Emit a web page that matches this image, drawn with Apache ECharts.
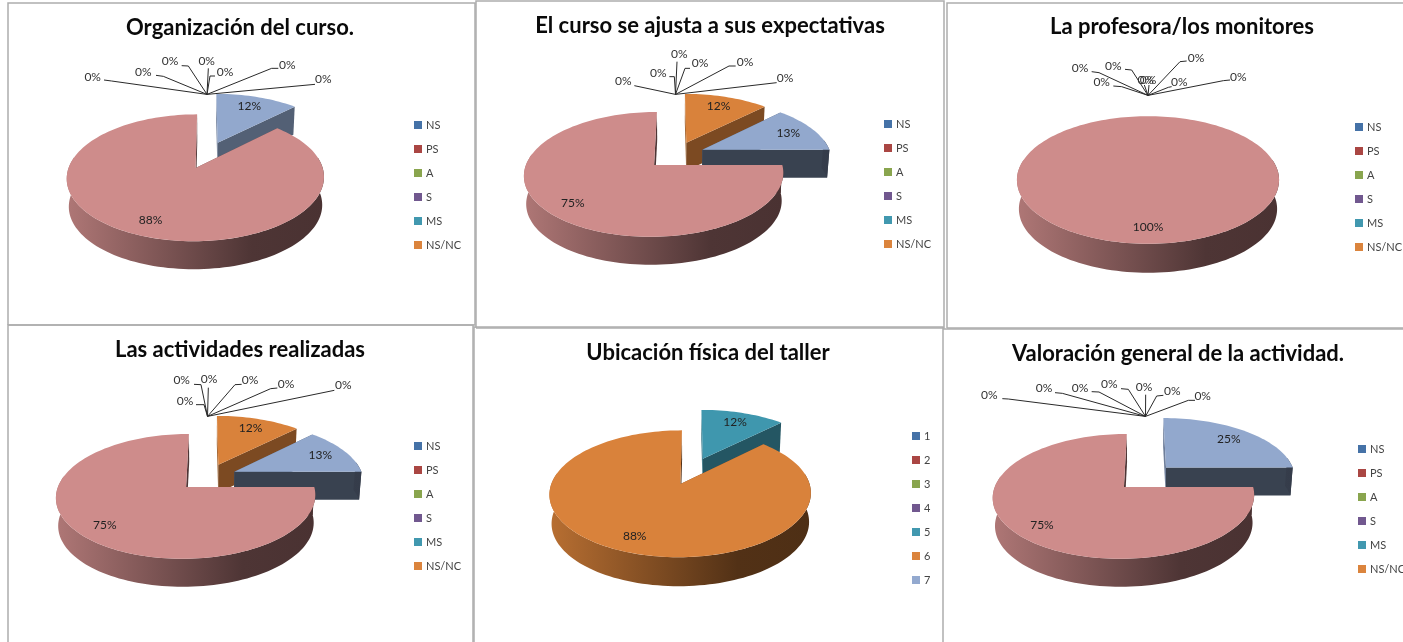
<!DOCTYPE html>
<html>
<head>
<meta charset="utf-8">
<style>html,body{margin:0;padding:0;background:#fff}#c{width:1403px;height:642px}</style>
<script src="https://cdn.jsdelivr.net/npm/echarts@6/dist/echarts.min.js"></script>
</head>
<body>
<div id="c"></div>
<script>
// ---- data ----
const titles = ['Organización del curso.','El curso se ajusta a sus expectativas','La profesora/los monitores','Las actividades realizadas','Ubicación física del taller','Valoración general de la actividad.'];
const legendScale = ['NS','PS','A','S','MS','NS/NC'];
const legendNumbers = ['1','2','3','4','5','6','7'];
const organizacion = [0,0,0,0,0,0,12.4,87.6,0];
const expectativas = [0,0,0,0,0,12.4,12.6,75,0];
const profesora    = [0,0,0,0,0,0,0,100,0];
const actividades  = [0,0,0,0,0,12.4,12.6,75,0];
const ubicacion    = [0,0,0,0,12.4,87.6,0];
const valoracion   = [0,0,0,0,0,0,25,75,0];

// ---- styles and layout ----
const legendColors = {NS:'#4572A7',PS:'#AA4643',A:'#89A54E',S:'#71588F',MS:'#4198AF','NS/NC':'#DB843D','1':'#4572A7','2':'#AA4643','3':'#89A54E','4':'#71588F','5':'#4198AF','6':'#DB843D','7':'#93A9CF'};
const sliceColors = ['#4572A7','#AA4643','#89A54E','#71588F','#3F97AE','#D9823B','#92A8CD','#CE8C8B','#A8BBD9'];
const FONT = 'Lato, "Open Sans", sans-serif';
const P = 0.148, E = 0.236, SMALL_R = 1.03;
const panels = [
 {values:organizacion,title:titles[0],tx:207,ty:155,a:123,b:58,depth:28,tc:[240,28],legend:legendScale,lg:[414,125],ox:0,oy:0,
  zeros:[[278,232,[335,243],[312,240]],[430,215,[490,229],[468,226]],[510,183,[565,198],[545,197]],[620,183,[625,205]],[675,215,[630,228],[645,228]],[862,195,[815,205],[835,205]],[970,238,[945,253]]]},
 {values:expectativas,title:titles[1],tx:675.5,ty:155,a:125,b:58,depth:28,tc:[710,26],legend:legendScale,lg:[884,124],ox:475,oy:0,
  zeros:[[445,242,[478,257]],[550,218,[598,230],[583,230]],[613,162,[606,185]],[675,190,[630,205],[645,205]],[810,187,[762,198],[782,198]],[930,235,[905,248]]]},
 {values:profesora,title:titles[2],tx:1148,ty:156,a:125,b:58,depth:29,tc:[1182,27],legend:legendScale,lg:[1355,127],ox:945,oy:0,
  zeros:[[405,203,[462,218],[440,215]],[470,246,[530,260],[505,258]],[505,198,[560,210],[540,208]],[602,240,[598,255]],[609,240,[612,255]],[703,247,[670,262],[680,260]],[753,175,[705,185],[725,183]],[880,232,[835,242],[855,240]]]},
 {values:actividades,title:titles[3],tx:207.5,ty:477,a:125,b:58,depth:28,tc:[240,350],legend:legendScale,lg:[414,446],ox:0,oy:322,
  zeros:[[555,238,[612,248],[588,248]],[545,175,[603,188],[582,187]],[627,170,[625,197]],[750,175,[705,188],[725,187]],[858,187,[812,200],[832,198]],[1030,190,[1003,205]]]},
 {values:ubicacion,title:titles[4],tx:692,ty:471,a:125,b:58,depth:29,tc:[708,353],legend:legendNumbers,lg:[912,436],ox:470,oy:322,zeros:[]},
 {values:valoracion,title:titles[5],tx:1145.5,ty:477,a:126,b:58,depth:28,tc:[1178,354],legend:legendScale,lg:[1358,449],ox:945,oy:322,
  zeros:[[133,218,[190,231],[172,230]],[297,198,[352,214],[330,212]],[405,198,[462,210],[440,209]],[493,186,[550,202],[528,200]],[597,195,[602,218]],[682,206,[635,222],[655,220]],[773,222,[730,235],[750,235]]]}
];
const frames = [
 [[8,325],[8,3],[475,3],[475,325],[8,325]],
 [[476,328],[476,1],[944,1],[944,328],[476,328]],
 [[947,328],[947,3],[1403,3]],[[947,328],[1403,328]],
 [[8,642],[8,325],[473,325],[473,642]],
 [[474,642],[474,327],[943,327],[943,642]],
 [[943,329],[1403,329]]
];

// ---- geometry ----
const rad = d => d*Math.PI/180;
function proj(pn,u,v){const k=1+P*v;return [pn.tx+pn.a*u/k, pn.ty-pn.b*v/k];}
function low(pn,pt){return [pn.tx+(pt[0]-pn.tx)*0.985, pt[1]+pn.depth];}
function shade(hex,f){const n=parseInt(hex.slice(1),16);
  const c=[(n>>16)&255,(n>>8)&255,n&255].map(x=>Math.round(x*f));
  return 'rgb('+c.join(',')+')';}
function renderSlice(pn){
  const total=pn.values.reduce((s,v)=>s+v,0);
  const largest=Math.max.apply(null,pn.values);
  return function(params){
    const i=params.dataIndex, val=pn.values[i];
    let before=0; for(let k=0;k<i;k++) before+=pn.values[k];
    const t0=before/total*360, t1=(before+val)/total*360, mid=(t0+t1)/2;
    const cu=E*Math.sin(rad(mid)), cv=E*Math.cos(rad(mid));
    const R=val===largest?1:SMALL_R;
    const at=(t,r=R)=>proj(pn,cu+r*Math.sin(rad(t)),cv+r*Math.cos(rad(t)));
    const children=[];
    if(val===0){
      let z=0; for(let k=0;k<i;k++) if(pn.values[k]===0) z++;
      const lab=pn.zeros[z]; if(!lab) return {type:'group',children};
      const pts=[at(mid,1)];
      lab.slice(2).forEach(q=>pts.push([pn.ox+q[0]/3,pn.oy+q[1]/3]));
      children.push({type:'polyline',shape:{points:pts},style:{stroke:'#2a2a2a',fill:null,lineWidth:1}});
      children.push({type:'text',style:{text:Math.round(val)+'%',x:pn.ox+lab[0]/3,y:pn.oy+lab[1]/3,align:'center',verticalAlign:'middle',font:'12px '+FONT,fill:'#333'}});
      return {type:'group',children};
    }
    const base=sliceColors[i];
    const apex=proj(pn,cu,cv);
    const arc=[]; const n=Math.max(2,Math.ceil((t1-t0)/2));
    for(let k=0;k<=n;k++) arc.push(at(t0+(t1-t0)*k/n));
    [t0,t1].forEach(t=>{
      const e=at(t);
      children.push({type:'polygon',shape:{points:[apex,e,low(pn,e),low(pn,apex)]},style:{fill:shade(base,Math.max(0.38,0.75-0.004*t))}});
    });
    const r0=Math.max(t0,80), r1=Math.min(t1,280);
    if(r1>r0){
      const upper=[],lower=[];
      for(let t=r0;;t+=2){const tt=Math.min(t,r1);const q=at(tt);upper.push(q);lower.unshift(low(pn,q));if(tt>=r1)break;}
      let xa=1e9,xb=-1e9;
      for(let t=0;t<360;t+=5){const x=at(t)[0];xa=Math.min(xa,x);xb=Math.max(xb,x);}
      children.push({type:'polygon',shape:{points:upper.concat(lower)},style:{fill:new echarts.graphic.LinearGradient(xa,0,xb,0,[
        {offset:0,color:shade(base,0.85)},{offset:0.72,color:shade(base,0.38)},{offset:1,color:shade(base,0.36)}],true)}});
    }
    children.push({type:'polygon',shape:{points:[apex].concat(arc)},style:{fill:base}});
    const lp=at(mid,0.8);
    children.push({type:'text',style:{text:Math.round(val/total*100)+'%',x:lp[0],y:lp[1],align:'center',verticalAlign:'middle',font:'12px '+FONT,fill:'#222'}});
    return {type:'group',children};
  };
}

// ---- option ----
const series=[];
panels.forEach(pn=>{
  series.push({type:'custom',name:pn.title,coordinateSystem:'none',silent:true,animation:false,
    data:pn.values.map(v=>[v]),renderItem:renderSlice(pn)});
});
Object.keys(legendColors).forEach(name=>{
  series.push({type:'custom',name,coordinateSystem:'none',silent:true,animation:false,data:[],
    itemStyle:{color:legendColors[name]},renderItem:()=>null});
});
const option={
  backgroundColor:'#fff',animation:false,
  title:panels.map(pn=>({text:pn.title,left:pn.tc[0],top:pn.tc[1],textAlign:'center',textVerticalAlign:'middle',padding:0,
    textStyle:{fontFamily:FONT,fontWeight:'bold',fontSize:22,color:'#0a0a0a'}})),
  legend:panels.map(pn=>({orient:'vertical',left:pn.lg[0],top:pn.lg[1]-7,padding:0,data:pn.legend.map(n=>({name:n,icon:'rect'})),
    itemWidth:8,itemHeight:8,itemGap:10,selectedMode:false,itemStyle:{borderWidth:0},
    textStyle:{fontFamily:FONT,fontSize:11,color:'#444',lineHeight:14,padding:[0,0,0,-1]}})),
  graphic:frames.map(f=>({type:'polyline',silent:true,z:-1,shape:{points:f},style:{stroke:'#ADADAD',fill:null,lineWidth:1.5}})),
  series
};
echarts.init(document.getElementById('c'),null,{renderer:'canvas'}).setOption(option);
</script>
</body>
</html>
